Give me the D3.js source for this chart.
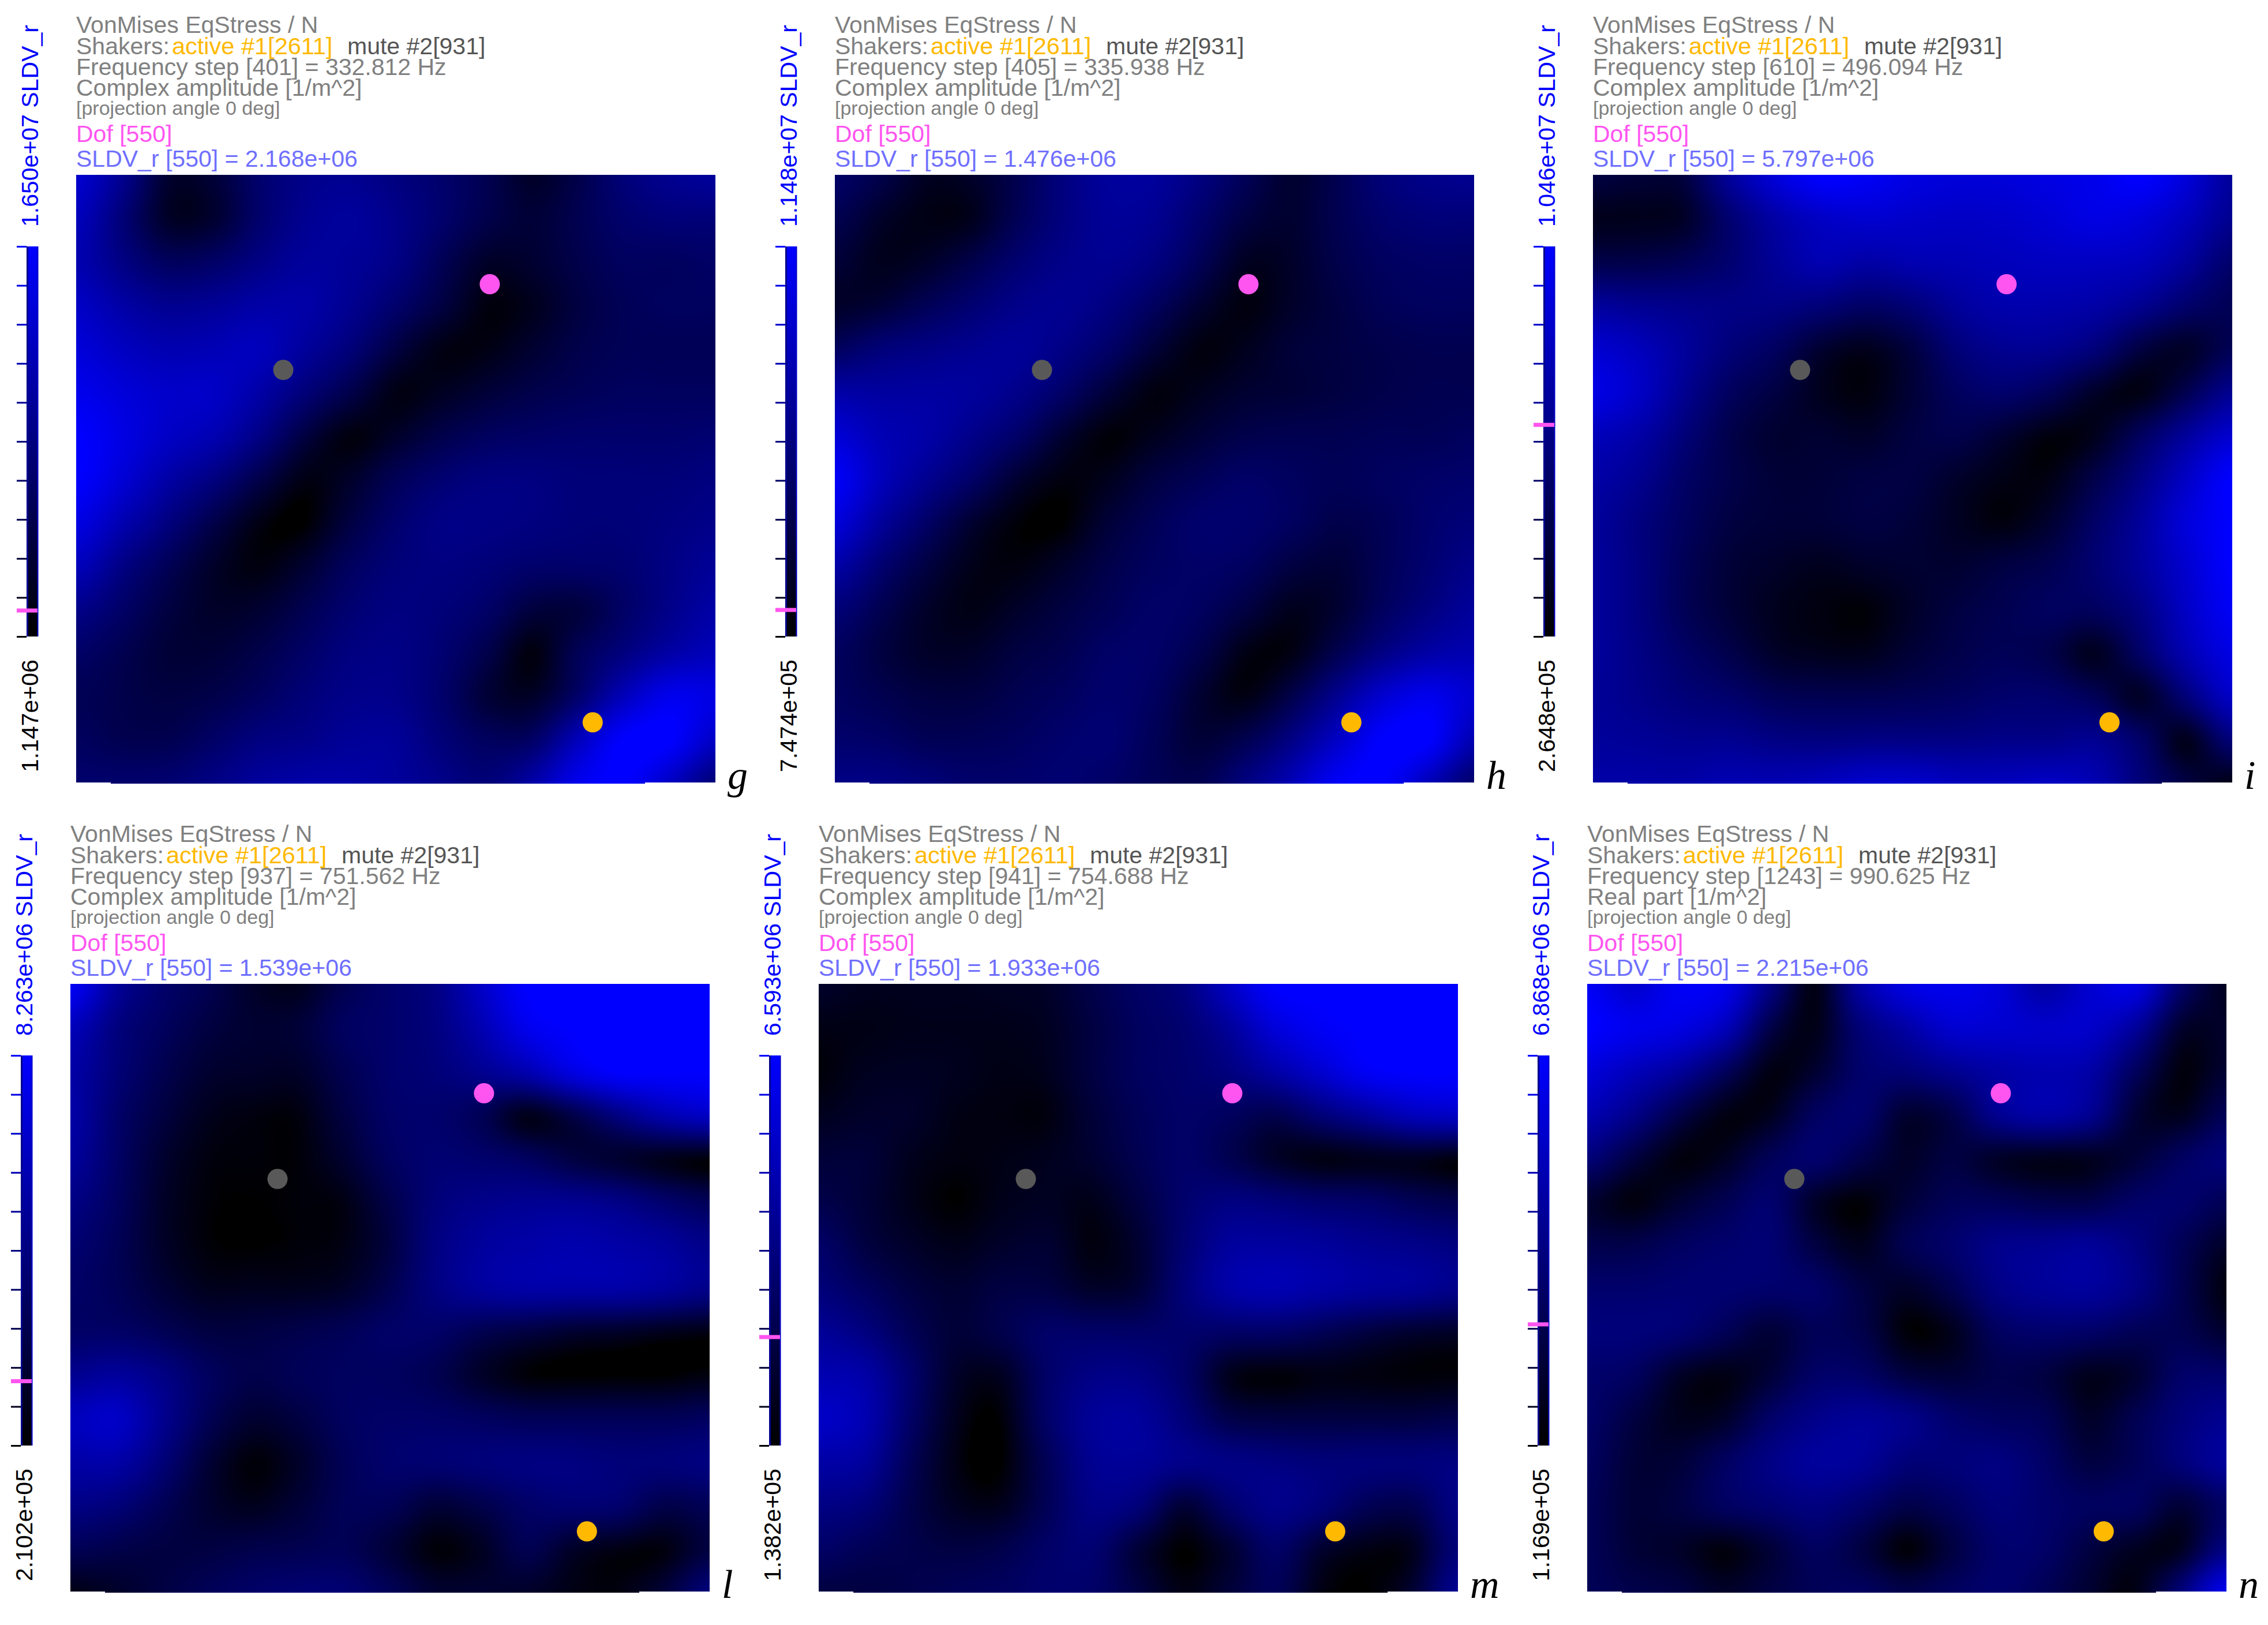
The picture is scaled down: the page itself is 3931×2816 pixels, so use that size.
<!DOCTYPE html>
<html>
<head>
<meta charset="utf-8">
<script src="https://cdnjs.cloudflare.com/ajax/libs/d3/7.8.5/d3.min.js"></script>
<style>
  html, body { margin: 0; background: #fff; }
  text { font-family: "Liberation Sans", sans-serif; }
</style>
</head>
<body>
<svg id="chart" width="3931" height="2816"></svg>
<script>
// labels per panel
var panelLetters = ["g", "h", "i", "l", "m", "n"];
var freqSteps = [401, 405, 610, 937, 941, 1243];
var freqHz = ["332.812", "335.938", "496.094", "751.562", "754.688", "990.625"];
var partLabels = ["Complex amplitude", "Complex amplitude", "Complex amplitude", "Complex amplitude", "Complex amplitude", "Real part"];
var sldvValues = ["2.168e+06", "1.476e+06", "5.797e+06", "1.539e+06", "1.933e+06", "2.215e+06"];
var barMax = ["1.650e+07", "1.148e+07", "1.046e+07", "8.263e+06", "6.593e+06", "6.868e+06"];
var barMin = ["1.147e+06", "7.474e+05", "2.648e+05", "2.102e+05", "1.382e+05", "1.169e+05"];

// plate positions of the three markers (fractions of the plate)
var dofPos = [0.647, 0.180];
var refPos = [0.324, 0.321];
var shakerPos = [0.808, 0.901];

// field, percent of the colour range, rows top to bottom
var fieldG = [
  [75,45,10,12,30,42,45,38,30,20,8,18,35,45,50],
  [65,35,8,10,30,45,50,42,30,18,12,20,30,35,35],
  [60,40,25,28,40,50,48,40,22,8,10,18,25,25,28],
  [70,55,45,48,55,55,45,30,15,2,5,15,22,25,25],
  [80,68,60,62,65,50,35,15,3,3,10,18,22,22,22],
  [90,80,72,70,55,35,18,3,6,12,18,22,25,25,25],
  [100,85,70,60,40,15,2,8,18,25,28,30,30,30,32],
  [100,78,55,38,18,3,8,22,32,38,38,35,35,35,38],
  [85,60,38,18,3,0,15,30,40,40,38,35,35,38,42],
  [65,40,22,8,2,10,25,35,38,35,30,30,32,40,48],
  [42,28,15,8,10,20,32,38,35,28,14,14,28,42,55],
  [28,20,12,12,18,28,38,40,32,18,2,22,38,55,65],
  [22,18,15,18,25,35,42,42,30,12,8,30,65,90,85],
  [25,20,20,28,38,42,48,48,35,25,28,65,100,100,70],
  [30,30,32,40,50,55,55,50,42,35,55,90,100,70,35]
];
var fieldH = [
  [28,18,6,8,20,38,50,50,38,22,10,20,35,42,45],
  [20,8,3,5,22,38,48,45,30,15,10,20,30,35,35],
  [12,5,8,18,32,42,45,38,22,6,8,18,25,28,28],
  [8,12,22,32,42,45,38,25,10,2,8,15,22,25,25],
  [25,35,40,45,48,40,28,12,2,5,12,15,18,20,20],
  [55,52,52,50,42,28,12,2,5,10,12,15,18,20,20],
  [78,62,55,42,28,10,1,5,12,18,20,20,22,22,25],
  [95,65,45,28,10,2,5,15,22,28,25,22,25,28,30],
  [80,50,28,10,1,0,12,22,30,30,25,18,22,30,35],
  [55,32,15,4,2,8,18,25,28,25,15,12,22,32,42],
  [35,20,8,3,8,15,22,28,25,15,5,10,25,38,50],
  [25,15,8,8,15,20,28,28,18,3,3,20,40,55,60],
  [25,20,15,15,20,25,30,25,10,3,18,45,75,90,75],
  [30,28,22,22,25,30,32,22,12,20,40,70,100,100,60],
  [40,40,35,30,30,32,28,22,20,38,62,95,100,65,30]
];
var fieldI = [
  [15,12,15,50,80,100,95,85,80,80,85,90,100,80,50],
  [5,5,8,32,55,70,75,72,70,72,78,85,80,65,45],
  [18,18,22,32,48,60,55,60,62,65,68,68,65,50,30],
  [50,45,42,40,40,35,28,35,50,58,58,55,45,30,22],
  [75,65,50,35,25,10,5,15,35,45,45,35,15,8,22],
  [85,70,45,25,15,5,2,12,25,30,22,8,3,20,45],
  [65,55,35,18,10,10,8,15,18,10,2,5,25,50,75],
  [55,45,28,18,12,12,15,15,8,3,3,18,40,70,100],
  [50,38,25,15,12,12,15,12,6,2,10,28,50,80,100],
  [50,38,22,12,8,5,8,10,10,15,20,32,50,75,100],
  [50,38,22,12,5,2,1,8,15,20,25,25,40,70,95],
  [50,40,28,18,8,5,5,12,18,22,18,6,28,60,85],
  [48,42,35,30,22,20,20,22,25,30,30,22,8,35,70],
  [50,48,45,45,40,38,40,40,40,42,42,45,28,5,35],
  [55,55,55,60,60,65,72,72,65,65,68,60,35,15,3]
];
var fieldL = [
  [95,50,30,20,8,5,20,30,40,70,100,100,100,100,100],
  [65,38,25,15,10,12,25,30,38,60,90,100,100,100,100],
  [55,35,20,10,8,8,20,30,35,45,60,85,100,100,100],
  [55,30,15,5,2,2,15,28,30,22,5,18,40,60,70],
  [50,28,10,2,1,1,10,25,32,30,25,15,10,5,2],
  [40,25,8,1,0,1,3,18,35,42,45,45,40,30,22],
  [32,22,8,1,0,1,3,15,38,50,55,58,55,50,42],
  [28,22,12,5,5,5,8,20,38,50,55,55,55,50,42],
  [28,28,22,15,15,18,22,28,28,20,15,10,8,5,3],
  [45,50,40,25,18,22,25,25,20,8,1,0,0,0,2],
  [65,70,45,22,10,15,25,28,28,25,22,22,22,22,25],
  [55,55,35,12,1,8,22,30,32,35,38,38,35,35,38],
  [40,35,22,10,5,12,22,22,12,18,28,32,30,18,22],
  [22,18,15,15,18,20,22,12,1,6,20,8,3,2,15],
  [3,8,15,22,28,32,32,22,10,10,8,3,2,12,35]
];
var fieldM = [
  [8,5,5,5,6,8,18,28,38,70,100,100,100,100,100],
  [3,3,4,4,4,6,15,25,32,50,80,95,100,100,100],
  [1,5,6,5,3,5,15,25,30,38,55,75,95,100,100],
  [5,8,8,3,2,2,12,22,28,25,20,35,50,65,70],
  [12,12,5,2,3,5,10,20,28,20,8,3,5,6,3],
  [18,12,4,0,4,6,4,15,30,38,35,30,28,22,18],
  [28,15,8,4,8,10,2,10,32,50,52,50,45,42,38],
  [35,25,15,10,15,15,8,12,35,55,60,55,50,48,42],
  [48,38,22,12,18,28,28,28,30,28,28,22,15,10,8],
  [60,55,30,8,6,28,40,40,28,5,1,3,2,1,1],
  [70,60,28,5,1,28,48,50,35,18,15,15,15,15,18],
  [55,50,22,3,0,22,45,48,42,40,38,35,35,35,38],
  [40,35,18,6,5,22,40,35,12,30,42,35,22,20,40],
  [28,22,18,15,18,28,32,12,0,10,28,10,3,5,35],
  [15,15,18,22,25,30,28,15,3,12,22,3,0,10,45]
];
var fieldN = [
  [95,75,95,90,40,3,55,85,90,80,55,75,85,30,5],
  [100,90,85,65,18,4,35,55,75,75,72,72,50,10,8],
  [80,65,50,25,3,10,30,35,45,55,60,55,25,2,10],
  [60,42,18,3,5,25,30,10,18,45,55,45,12,5,22],
  [35,15,2,6,22,30,18,8,15,8,5,6,12,25,35],
  [10,2,10,20,30,8,1,12,22,22,18,18,28,30,22],
  [18,18,25,30,32,15,5,20,30,42,45,48,38,22,8],
  [30,30,32,32,30,28,15,8,20,40,48,50,40,20,2],
  [35,35,32,22,12,22,18,1,5,25,30,28,22,20,10],
  [30,25,8,3,12,28,28,15,12,18,15,5,10,28,30],
  [28,15,5,8,28,42,48,42,30,25,22,8,20,35,45],
  [25,12,12,25,40,50,48,35,35,38,28,15,22,35,50],
  [22,12,15,25,32,38,30,18,25,35,30,25,25,12,28],
  [22,12,8,2,12,25,15,1,15,30,28,15,6,6,40],
  [22,18,15,8,15,22,25,18,25,30,22,10,3,35,90]
];
var fields = [fieldG, fieldH, fieldI, fieldL, fieldM, fieldN];

// layout
var plateLeft = [132, 1447, 2761, 122, 1419, 2751];
var plateTop = [303, 303, 303, 1705, 1705, 1705];
var plateW = 1108, plateH = 1053;

var grey = "#808080", orange = "#ffb900", magenta = "#ff55f0", sldvBlue = "#6f6fff", muteGrey = "#555555";

var svg = d3.select("#chart");
var defs = svg.append("defs");

var colour = d3.scaleLinear().domain([0, 100]).range(["#000000", "#0000ff"]).clamp(true);

var grad = defs.append("linearGradient").attr("id", "barGrad")
    .attr("x1", 0).attr("x2", 0).attr("y1", 1).attr("y2", 0);
grad.append("stop").attr("offset", 0).attr("stop-color", colour(0));
grad.append("stop").attr("offset", 1).attr("stop-color", colour(100));

// plate outline: the bottom edge sticks out a little in the middle
var clip = defs.append("clipPath").attr("id", "plateClip");
clip.append("rect").attr("width", plateW).attr("height", plateH);
clip.append("rect").attr("x", 60).attr("width", 926).attr("height", plateH + 2);

// catmull-rom through the read values so that a node shows what was read
function spline(vals, t) {
    var n = vals.length - 1,
        s = Math.min(Math.max(t, 0), 1) * n,
        i = Math.min(Math.floor(s), n - 1),
        f = s - i,
        a = vals[Math.max(i - 1, 0)], b = vals[i], c = vals[i + 1], d = vals[Math.min(i + 2, n)];
    return 0.5 * (2 * b + (c - a) * f + (2 * a - 5 * b + 4 * c - d) * f * f + (3 * b - a - 3 * c + d) * f * f * f);
}

function fieldImage(field) {
    var canvas = document.createElement("canvas");
    canvas.width = plateW;
    canvas.height = plateH + 2;
    var ctx = canvas.getContext("2d"),
        img = ctx.createImageData(canvas.width, canvas.height),
        // my percent readings are by eye, the eye reads the dark blues too low
        blue = d3.scalePow().exponent(0.72).domain([0, 100]).range([0, 255]).clamp(true);
    for (var px = 0; px < canvas.width; px++) {
        var col = field.map(function (row) { return spline(row, px / (canvas.width - 1)); });
        for (var py = 0; py < canvas.height; py++) {
            var k = (py * canvas.width + px) * 4;
            img.data[k + 2] = blue(spline(col, py / (canvas.height - 1)));
            img.data[k + 3] = 255;
        }
    }
    ctx.putImageData(img, 0, 0);
    return canvas.toDataURL("image/png");
}

panelLetters.forEach(function (letter, p) {
    var left = plateLeft[p], top = plateTop[p];
    var g = svg.append("g").attr("transform", "translate(" + left + "," + top + ")");

    var x = d3.scaleLinear().domain([0, 1]).range([0, plateW]);
    var y = d3.scaleLinear().domain([0, 1]).range([0, plateH]);

    // the plate image
    g.append("image")
        .attr("width", plateW).attr("height", plateH + 2)
        .attr("preserveAspectRatio", "none")
        .attr("clip-path", "url(#plateClip)")
        .attr("href", fieldImage(fields[p]));

    // markers
    var dots = [[refPos, "#595959"], [dofPos, magenta], [shakerPos, orange]];
    g.selectAll("circle").data(dots).enter().append("circle")
        .attr("cx", function (d) { return x(d[0][0]); })
        .attr("cy", function (d) { return y(d[0][1]); })
        .attr("r", 17.5)
        .attr("fill", function (d) { return d[1]; });

    // header lines
    var head = g.append("g").attr("font-size", 41).attr("fill", grey);
    head.append("text").attr("y", -246).text("VonMises EqStress / N");
    var sh = head.append("text").attr("y", -209);
    sh.append("tspan").text("Shakers:");
    sh.append("tspan").attr("x", 166).attr("fill", orange).attr("font-size", 41.5).text("active #1[2611]");
    sh.append("tspan").attr("x", 470).attr("fill", muteGrey).text("mute #2[931]");
    head.append("text").attr("y", -173).text("Frequency step [" + freqSteps[p] + "] = " + freqHz[p] + " Hz");
    head.append("text").attr("y", -137).text(partLabels[p] + " [1/m^2]");
    head.append("text").attr("y", -104).attr("font-size", 34).text("[projection angle 0 deg]");
    head.append("text").attr("y", -57).attr("fill", magenta).text("Dof [550]");
    head.append("text").attr("y", -14).attr("fill", sldvBlue).text("SLDV_r [550] = " + sldvValues[p]);

    // panel letter
    g.append("text")
        .attr("x", plateW + 21).attr("y", plateH + 11)
        .style("font-family", "serif")
        .attr("font-style", "italic").attr("font-size", 70).attr("fill", "#000")
        .text(letter);

    // colour bar
    var lo = +barMin[p], hi = +barMax[p];
    var barY = d3.scaleLinear().domain([lo, hi]).range([800, 124]);
    var frac = d3.scaleLinear().domain([lo, hi]).range([0, 100]);
    var bar = g.append("g").attr("transform", "translate(-86,0)");
    bar.append("rect").attr("x", 0).attr("y", 124).attr("width", 20).attr("height", 676).attr("fill", "url(#barGrad)");
    // the bar's side edges stay navy all the way down
    bar.append("rect").attr("x", 0).attr("y", 124).attr("width", 3).attr("height", 676).attr("fill", "#00008c");
    bar.append("rect").attr("x", 18.5).attr("y", 124).attr("width", 2).attr("height", 676).attr("fill", "#0000c8");

    var tickVals = d3.range(11).map(function (i) { return lo + i * (hi - lo) / 10; });
    var axis = bar.append("g").call(d3.axisLeft(barY).tickValues(tickVals).tickSize(17).tickFormat(""));
    axis.select(".domain").remove();
    axis.selectAll(".tick line")
        .attr("stroke-width", 3)
        .attr("stroke", function (d) { return colour(frac(d)); });

    bar.append("line")
        .attr("x1", -17).attr("x2", 19)
        .attr("y1", barY(+sldvValues[p])).attr("y2", barY(+sldvValues[p]))
        .attr("stroke", magenta).attr("stroke-width", 7);

    g.append("text")
        .attr("transform", "translate(-66,90) rotate(-90)")
        .attr("font-size", 41).attr("fill", "#0000ff")
        .text(barMax[p] + " SLDV_r");
    g.append("text")
        .attr("transform", "translate(-66,1035) rotate(-90)")
        .attr("font-size", 41).attr("fill", "#000")
        .text(barMin[p]);
});
</script>
</body>
</html>
